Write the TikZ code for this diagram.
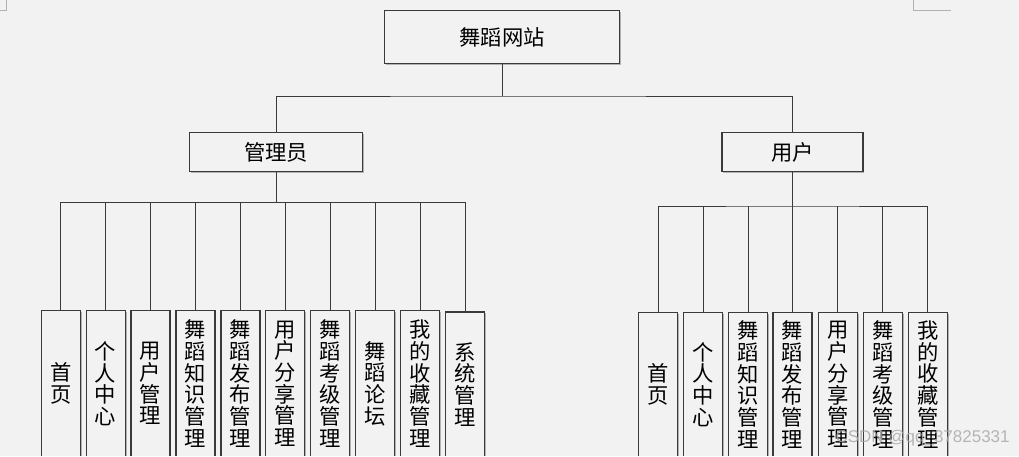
\documentclass[tikz,border=0pt]{standalone}
\usepackage{fontspec}
\setmainfont{Liberation Sans}
\newfontfamily\cjk{Noto Sans CJK SC}
\usetikzlibrary{shadows}
\definecolor{bg}{HTML}{F2F2F2}
\definecolor{ln}{HTML}{3A3A3A}
\begin{document}
\begin{tikzpicture}[x=1pt,y=-1pt,
  box/.style={draw=ln, line width=1.2pt, fill=bg, inner sep=0pt,
    font=\cjk\fontsize{21.3pt}{21.7pt}\selectfont,
    drop shadow={shadow xshift=1.4pt, shadow yshift=-1.4pt, fill=black!30, opacity=1}},
  leaf/.style={box, minimum width=39pt, align=center, anchor=north},
  conn/.style={draw=ln, line width=1pt},
  cornermark/.style={draw=black!30, line width=1pt}]
\useasboundingbox (0,0) rectangle (1019,456);
\fill[bg] (0,0) rectangle (1019,456);
\begin{scope}
\clip (0,0) rectangle (1019,455.2);
% corner marks
\draw[cornermark] (6,0) -- (6,10) -- (0,10);
\draw[cornermark] (913,0) -- (913,10) -- (951,10);

\node[box, minimum width=235pt, minimum height=52.6pt] (top) at (502,37) {舞蹈网站};
\node[box, minimum width=173.7pt, minimum height=39.7pt] (admin) at (276,152) {管理员};
\node[box, minimum width=141pt, minimum height=39.7pt] (user) at (792.5,152) {用户};

\coordinate (b1) at (502,96);
\draw[conn] (top.south) -- (b1);
\draw[conn] (admin.north) |- (b1) -| (user.north);

% admin leaves
\node[leaf, minimum height=146pt] (a1) at (60.7,310) {首\\页};
\node[leaf, minimum height=146pt] (a2) at (105.6,310) {个\\人\\中\\心};
\node[leaf, minimum height=146pt] (a3) at (150.5,310) {用\\户\\管\\理};
\node[leaf, minimum height=146pt] (a4) at (195.5,310) {舞\\蹈\\知\\识\\管\\理};
\node[leaf, minimum height=146pt] (a5) at (240.4,310) {舞\\蹈\\发\\布\\管\\理};
\node[leaf, minimum height=146pt] (a6) at (285.3,310) {用\\户\\分\\享\\管\\理};
\node[leaf, minimum height=146pt] (a7) at (330.2,310) {舞\\蹈\\考\\级\\管\\理};
\node[leaf, minimum height=146pt] (a8) at (375.1,310) {舞\\蹈\\论\\坛};
\node[leaf, minimum height=146pt] (a9) at (420.1,310) {我\\的\\收\\藏\\管\\理};
\node[leaf, minimum height=144.7pt] (a10) at (465,311.3) {系\\统\\管\\理};

\coordinate (b2) at (276,202.3);
\draw[conn] (admin.south) -- (b2);
\draw[conn] (a1.north) |- (b2) -| (a10.north);
\foreach \i in {2,...,9} { \draw[conn] (a\i.north) -- (a\i.north |- b2); }

% user leaves
\node[leaf, minimum height=144.3pt] (u1) at (658.3,311.7) {首\\页};
\node[leaf, minimum height=144.3pt] (u2) at (703.2,311.7) {个\\人\\中\\心};
\node[leaf, minimum height=144.3pt] (u3) at (748.1,311.7) {舞\\蹈\\知\\识\\管\\理};
\node[leaf, minimum height=144.3pt] (u4) at (792.5,311.7) {舞\\蹈\\发\\布\\管\\理};
\node[leaf, minimum height=144.3pt] (u5) at (837.9,311.7) {用\\户\\分\\享\\管\\理};
\node[leaf, minimum height=144.3pt] (u6) at (882.8,311.7) {舞\\蹈\\考\\级\\管\\理};
\node[leaf, minimum height=144.3pt] (u7) at (927.7,311.7) {我\\的\\收\\藏\\管\\理};

\coordinate (b3) at (792.5,206);
\draw[conn] (user.south) -- (b3);
\draw[conn] (u1.north) |- (b3) -| (u7.north);
\foreach \i in {2,...,6} { \draw[conn] (u\i.north) -- (u\i.north |- b3); }

\node[text=black!35, opacity=0.8, font=\fontsize{17pt}{17pt}\selectfont, anchor=west] (wm) at (832,438) {CSDN @qq\_37825331};
\end{scope}
\end{tikzpicture}
\end{document}
